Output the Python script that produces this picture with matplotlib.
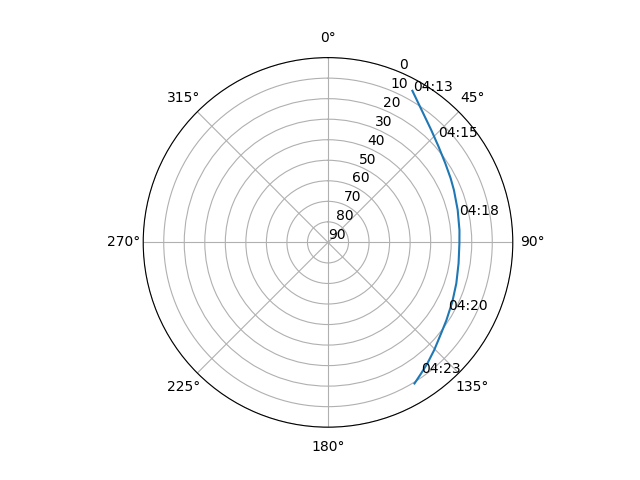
"""Polar sky plot of a satellite pass (azimuth / elevation)"""

import numpy as np
import matplotlib
matplotlib.use("Agg")
import matplotlib.pyplot as plt

# Pass track: azimuth (deg), elevation (deg)
azimuth = [29.1, 36.3, 42.6, 49.2, 56.0, 62.4, 67.5, 76.0, 84.7, 90.4,
           99.1, 107.7, 115.5, 123.3, 128.8, 135.3, 140.5, 144.6, 148.5]
elevation = [5.5, 11.8, 15.7, 18.8, 21.1, 22.6, 23.6, 24.9, 25.7, 26.0,
             25.6, 24.4, 22.9, 21.0, 19.3, 16.4, 13.8, 11.7, 9.4]

# Time stamps written along the track
label_times = ["04:13", "04:15", "04:18", "04:20", "04:23"]
label_az = [29.2, 46.2, 78.3, 119.3, 144.7]
label_el = [5.5, 15.7, 24.6, 22.7, 11.8]

elev_ticks = list(range(0, 91, 10))

fig = plt.figure(figsize=(6.4, 4.8), dpi=100)
ax = fig.add_subplot(111, projection="polar")

# North up, clockwise, horizon at the edge and zenith at the centre
ax.set_theta_zero_location("N")
ax.set_theta_direction(-1)
ax.set_rlim(90, 0)
ax.set_yticks(elev_ticks)

ax.plot(np.radians(azimuth), elevation)

for label, az, el in zip(label_times, label_az, label_el):
    ax.text(np.radians(az), el, label)

plt.savefig("out.png")
